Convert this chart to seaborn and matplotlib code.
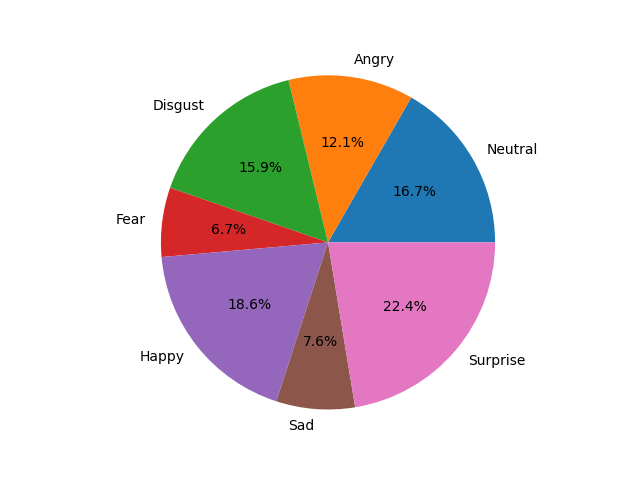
import matplotlib
matplotlib.use("Agg")
import matplotlib.pyplot as plt
import seaborn as sns

# emotion share (percent)
emotions = ["Neutral", "Angry", "Disgust", "Fear", "Happy", "Sad", "Surprise"]
shares = [16.7, 12.1, 15.9, 6.7, 18.6, 7.6, 22.4]

colors = sns.color_palette("tab10", len(emotions))

fig, ax = plt.subplots(figsize=(6.4, 4.8), dpi=100)
ax.pie(shares, labels=emotions, colors=colors, autopct="%1.1f%%")
ax.axis("equal")
ax.margins(0.053)

fig.savefig("out.png")
